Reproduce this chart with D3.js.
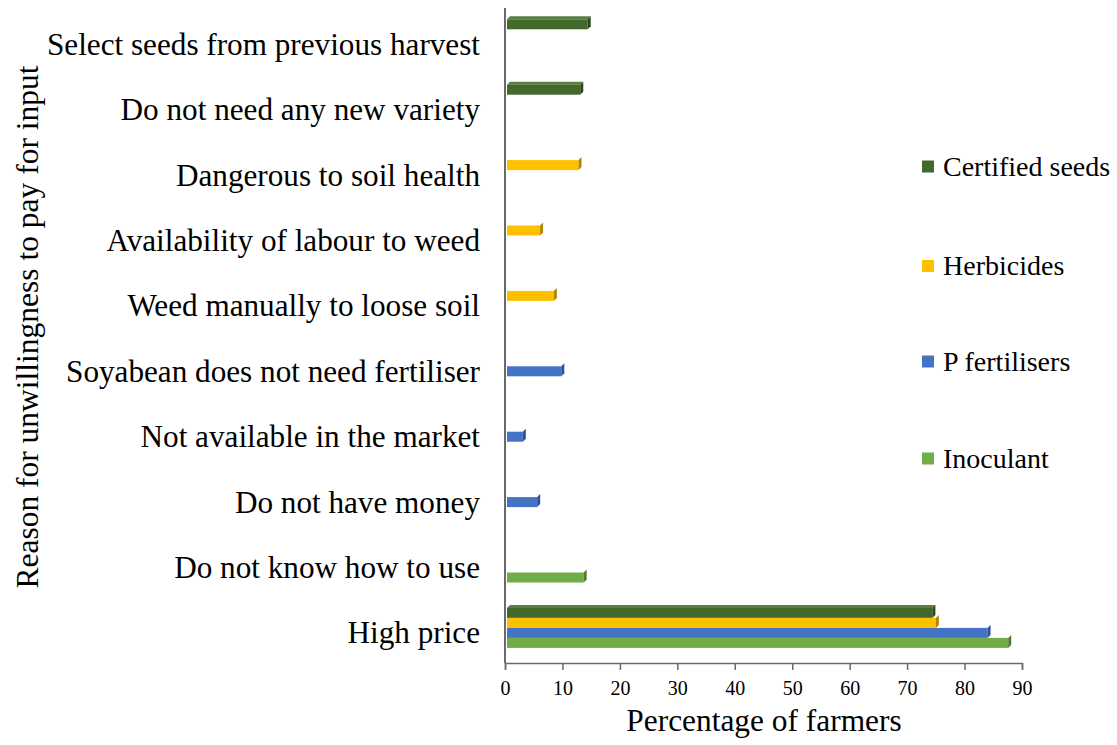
<!DOCTYPE html>
<html>
<head>
<meta charset="utf-8">
<script src="https://cdn.jsdelivr.net/npm/d3@7"></script>
<style>
  html, body { margin: 0; padding: 0; background: #fff; }
  svg { display: block; }
  text { font-family: "Liberation Serif", "Times New Roman", serif; fill: #000; }
</style>
</head>
<body>
<svg id="chart" width="1117" height="745"></svg>
<script>
// Reasons, listed top to bottom
const categories = [
  "Select seeds from previous harvest",
  "Do not need any new variety",
  "Dangerous to soil health",
  "Availability of labour to weed",
  "Weed manually to loose soil",
  "Soyabean does not need fertiliser",
  "Not available in the market",
  "Do not have money",
  "Do not know how to use",
  "High price"
];
const seriesNames = ["Certified seeds", "Herbicides", "P fertilisers", "Inoculant"];
const seriesColors = ["#43682b", "#ffc000", "#4472c4", "#70ad47"];
const sideColors = ["#2c461c", "#b38600", "#2f5191", "#4e7a31"];

// Percentage of farmers per reason (null = not asked for that input)
const certifiedSeeds = [14.4, 13.1, null, null, null, null, null, null, null, 74.4];
const herbicides     = [null, null, 12.8, 6.1, 8.5, null, null, null, null, 75.0];
const pFertilisers   = [null, null, null, null, null, 9.8, 3.1, 5.6, null, 84.0];
const inoculant      = [null, null, null, null, null, null, null, null, 13.7, 87.6];
const seriesValues = [certifiedSeeds, herbicides, pFertilisers, inoculant];

const xTicks = [0, 10, 20, 30, 40, 50, 60, 70, 80, 90];

const svg = d3.select("#chart");

const x = d3.scaleLinear().domain([0, 90]).range([505, 1022]);
const y = d3.scaleBand().domain(categories).range([6.6, 660.6])
  .paddingInner(0.388).paddingOuter(0.194);
const ySub = d3.scaleBand().domain(seriesNames).range([0, y.bandwidth()]);

const axisColor = "#6a6a6a";
const plotTop = 8, plotBottom = 663;

// Bars with a shallow 3D end and top face
const depthX = 3, depthY = 3;
seriesNames.forEach((name, si) => {
  const rows = categories.map((c, i) => ({ c, v: seriesValues[si][i] })).filter(d => d.v != null);
  const g = svg.append("g");
  rows.forEach(d => {
    const x0 = x(0) + 2, x1 = x(d.v);
    const y0 = y(d.c) + ySub(name), h = ySub.bandwidth();
    if (si === 0) {
      // top face, only visible on the uppermost bar of a group
      g.append("polygon")
        .attr("points", [[x0, y0], [x0 + depthX, y0 - depthY], [x1 + depthX, y0 - depthY], [x1, y0]].join(" "))
        .attr("fill", "#5a7f42");
    }
    g.append("rect")
      .attr("x", x0).attr("y", y0).attr("width", x1 - x0).attr("height", h)
      .attr("fill", seriesColors[si]);
    // right end face
    g.append("polygon")
      .attr("points", [[x1, y0], [x1 + depthX, y0 - depthY], [x1 + depthX, y0 + h - depthY], [x1, y0 + h]].join(" "))
      .attr("fill", sideColors[si]);
  });
});

// Axes
svg.append("line").attr("x1", x(0)).attr("x2", x(0)).attr("y1", plotTop).attr("y2", plotBottom)
  .attr("stroke", axisColor).attr("stroke-width", 2);

const xAxis = svg.append("g").attr("transform", `translate(0,${plotBottom})`)
  .call(d3.axisBottom(x).tickValues(xTicks).tickSize(7).tickPadding(11));
xAxis.attr("font-family", null).attr("font-size", null);
xAxis.select(".domain").attr("stroke", axisColor).attr("stroke-width", 1.5);
xAxis.selectAll(".tick line").attr("stroke", axisColor).attr("stroke-width", 1.5);
xAxis.selectAll(".tick text").style("font-size", "20px").attr("fill", "#000");

// Category labels
svg.append("g").selectAll("text").data(categories).join("text")
  .attr("x", 480)
  .attr("y", d => y(d) + y.bandwidth() / 2 + 15.5)
  .attr("text-anchor", "end")
  .style("font-size", "31.2px")
  .text(d => d);

// Axis titles
svg.append("text")
  .attr("x", 764).attr("y", 731)
  .attr("text-anchor", "middle").style("font-size", "31.4px")
  .text("Percentage of farmers");

svg.append("text")
  .attr("transform", "translate(38,327) rotate(-90)")
  .attr("text-anchor", "middle").style("font-size", "31.5px")
  .text("Reason for unwillingness to pay for input");

// Legend
const legendY = [166.5, 266, 361.5, 458.5];
const legend = svg.append("g").selectAll("g").data(seriesNames).join("g")
  .attr("transform", (d, i) => `translate(922,${legendY[i]})`);
legend.append("rect").attr("x", 0).attr("y", -6).attr("width", 12).attr("height", 12)
  .attr("fill", (d, i) => seriesColors[i]);
legend.append("text").attr("x", 21).attr("y", 9).style("font-size", "28px").text(d => d);
</script>
</body>
</html>
